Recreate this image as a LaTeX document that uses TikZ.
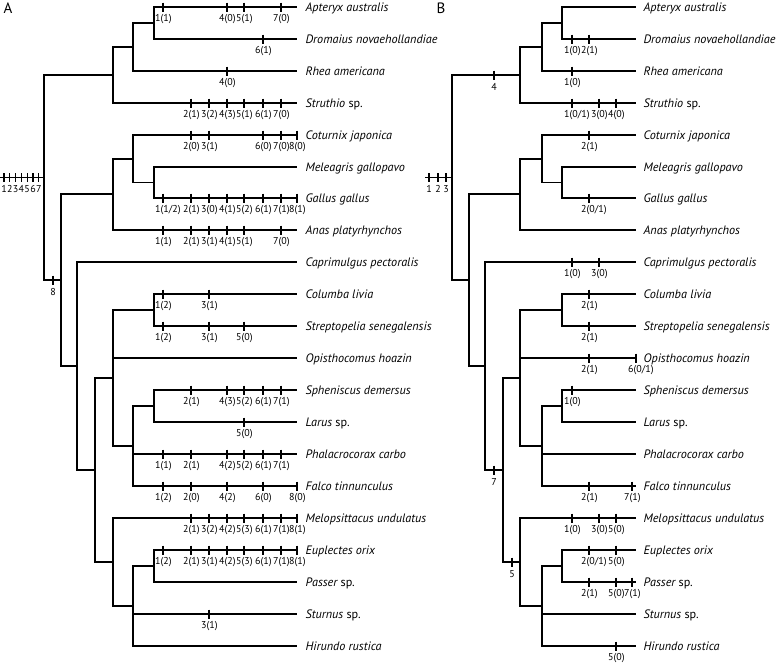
\documentclass[tikz,border=0pt]{standalone}
\usepackage{fontspec}
\setmainfont{PT Sans}
\newcounter{lblc}
\newcommand\ctick[3]{%
  \stepcounter{lblc}%
  \draw (#1,#2-4.5) -- (#1,#2+4.5);
  \node[cl] (lb\arabic{lblc}) at (#1-8.5,#2+14.5) {#3};}
\newcommand\dtick[3]{%
  \stepcounter{lblc}%
  \draw (#1,#2-4.5) -- (#1,#2+4.5);
  \node[dl] (lb\arabic{lblc}) at (#1,#2+15) {#3};}
\begin{document}
\begin{tikzpicture}[x=1pt,y=-1pt,line width=1.2pt,
  sp/.style={anchor=base west,font=\fontsize{12.2}{13}\selectfont\itshape,inner sep=0pt},
  cl/.style={anchor=base west,font=\fontsize{10}{10}\selectfont,inner sep=0pt},
  dl/.style={anchor=base,font=\fontsize{10}{10}\selectfont,inner sep=0pt},
  pl/.style={anchor=base west,font=\fontsize{15}{15}\selectfont,inner sep=0pt}]
\useasboundingbox (0,0) rectangle (778,662);
\node[pl] (pA) at (3,13) {A};
\node[pl] (pB) at (436,13) {B};
% ---------- species labels and leaf ends ----------
\foreach \nm/\yy/\tx in {Apt/7/{Apteryx australis},Dro/39/{Dromaius novaehollandiae},
  Rhe/71/{Rhea americana},Str/103/{Struthio {\upshape sp.}},Cot/135/{Coturnix japonica},
  Mel/167/{Meleagris gallopavo},Gal/198/{Gallus gallus},Ana/230/{Anas platyrhynchos},
  Cap/262/{Caprimulgus pectoralis},Col/294/{Columba livia},Stp/326/{Streptopelia senegalensis},
  Opi/358/{Opisthocomus hoazin},Sph/390/{Spheniscus demersus},Lar/422/{Larus {\upshape sp.}},
  Pha/454/{Phalacrocorax carbo},Fal/486/{Falco tinnunculus},Mlp/518/{Melopsittacus undulatus},
  Eup/550/{Euplectes orix},Pas/582/{Passer {\upshape sp.}},Stu/614/{Sturnus {\upshape sp.}},
  Hir/646/{Hirundo rustica}}{
  \coordinate (a\nm) at (297,\yy);
  \coordinate (b\nm) at (636,\yy);
  \node[sp] (ta\nm) at (305,\yy+4) {\tx};
  \node[sp] (tb\nm) at (643,\yy+4) {\tx};
}
% ---------- tree A ----------
\coordinate (aRoot) at (44,177.5);
\coordinate (aStem) at (0,177.5);
\coordinate (aPal) at (113,75);
\coordinate (aP1) at (133,47);
\coordinate (aP2) at (154,23);
\coordinate (aNeo) at (61,280);
\coordinate (aGa) at (113,194);
\coordinate (aG1) at (133,159);
\coordinate (aG2) at (154,182.5);
\coordinate (aNa) at (77,366);
\coordinate (aN1) at (95,470);
\coordinate (aN2) at (113,378);
\coordinate (aCo) at (154,310);
\coordinate (aN4) at (133,446);
\coordinate (aSp) at (154,406);
\coordinate (aN3) at (113,562);
\coordinate (aN5) at (133,606);
\coordinate (aPa) at (154,566);
\draw (aStem) -- (aRoot);
\draw (aRoot) |- (aPal); \draw (aRoot) |- (aNeo);
\draw (aPal) |- (aP1); \draw (aPal) |- (aStr);
\draw (aP1) |- (aP2); \draw (aP1) |- (aRhe);
\draw (aP2) |- (aApt); \draw (aP2) |- (aDro);
\draw (aNeo) |- (aGa); \draw (aNeo) |- (aNa);
\draw (aGa) |- (aG1); \draw (aGa) |- (aAna);
\draw (aG1) |- (aCot); \draw (aG1) |- (aG2);
\draw (aG2) |- (aMel); \draw (aG2) |- (aGal);
\draw (aNa) |- (aCap); \draw (aNa) |- (aN1);
\draw (aN1) |- (aN2); \draw (aN1) |- (aN3);
\draw (aN2) |- (aCo); \draw (aN2) |- (aOpi); \draw (aN2) |- (aN4);
\draw (aCo) |- (aCol); \draw (aCo) |- (aStp);
\draw (aN4) |- (aSp); \draw (aN4) |- (aPha); \draw (aN4) |- (aFal);
\draw (aSp) |- (aSph); \draw (aSp) |- (aLar);
\draw (aN3) |- (aMlp); \draw (aN3) |- (aN5);
\draw (aN5) |- (aPa); \draw (aN5) |- (aStu); \draw (aN5) |- (aHir);
\draw (aPa) |- (aEup); \draw (aPa) |- (aPas);
% stem ticks A
\foreach \i [count=\k] in {4,9.8,15.6,21.4,27.2,33,38.8}{\dtick{\i}{177.5}{\k}}
\dtick{53}{280}{8}
% character ticks A: 1=163 2=191 3=209 4=227 5=244 6=263 7=281 8=297
\ctick{163}{7}{1(1)}\ctick{227}{7}{4(0)}\ctick{244}{7}{5(1)}\ctick{281}{7}{7(0)}
\ctick{263}{39}{6(1)}
\ctick{227}{71}{4(0)}
\ctick{191}{103}{2(1)}\ctick{209}{103}{3(2)}\ctick{227}{103}{4(3)}\ctick{244}{103}{5(1)}\ctick{263}{103}{6(1)}\ctick{281}{103}{7(0)}
\ctick{191}{135}{2(0)}\ctick{209}{135}{3(1)}\ctick{263}{135}{6(0)}\ctick{281}{135}{7(0)}\ctick{297}{135}{8(0)}
\ctick{163}{198}{1(1/2)}\ctick{191}{198}{2(1)}\ctick{209}{198}{3(0)}\ctick{227}{198}{4(1)}\ctick{244}{198}{5(2)}\ctick{263}{198}{6(1)}\ctick{281}{198}{7(1)}\ctick{297}{198}{8(1)}
\ctick{163}{230}{1(1)}\ctick{191}{230}{2(1)}\ctick{209}{230}{3(1)}\ctick{227}{230}{4(1)}\ctick{244}{230}{5(1)}\ctick{281}{230}{7(0)}
\ctick{163}{294}{1(2)}\ctick{209}{294}{3(1)}
\ctick{163}{326}{1(2)}\ctick{209}{326}{3(1)}\ctick{244}{326}{5(0)}
\ctick{191}{390}{2(1)}\ctick{227}{390}{4(3)}\ctick{244}{390}{5(2)}\ctick{263}{390}{6(1)}\ctick{281}{390}{7(1)}
\ctick{244}{422}{5(0)}
\ctick{163}{454}{1(1)}\ctick{191}{454}{2(1)}\ctick{227}{454}{4(2)}\ctick{244}{454}{5(2)}\ctick{263}{454}{6(1)}\ctick{281}{454}{7(1)}
\ctick{163}{486}{1(2)}\ctick{191}{486}{2(0)}\ctick{227}{486}{4(2)}\ctick{263}{486}{6(0)}\ctick{297}{486}{8(0)}
\ctick{191}{518}{2(1)}\ctick{209}{518}{3(2)}\ctick{227}{518}{4(2)}\ctick{244}{518}{5(3)}\ctick{263}{518}{6(1)}\ctick{281}{518}{7(1)}\ctick{297}{518}{8(1)}
\ctick{163}{550}{1(2)}\ctick{191}{550}{2(1)}\ctick{209}{550}{3(1)}\ctick{227}{550}{4(2)}\ctick{244}{550}{5(3)}\ctick{263}{550}{6(1)}\ctick{281}{550}{7(1)}\ctick{297}{550}{8(1)}
\ctick{209}{614}{3(1)}
% ---------- tree B ----------
\coordinate (bRoot) at (452,177.5);
\coordinate (bStem) at (425,177.5);
\coordinate (bPal) at (520,75);
\coordinate (bP1) at (542,47);
\coordinate (bP2) at (562,23);
\coordinate (bNeo) at (469,280);
\coordinate (bGa) at (520,194);
\coordinate (bG1) at (542,159);
\coordinate (bG2) at (562,182.5);
\coordinate (bNa) at (485,366);
\coordinate (bN1) at (503,470);
\coordinate (bN2) at (520,378);
\coordinate (bCo) at (562,310);
\coordinate (bN4) at (542,446);
\coordinate (bSp) at (562,406);
\coordinate (bN3) at (520,562);
\coordinate (bN5) at (542,606);
\coordinate (bPa) at (562,566);
\draw (bStem) -- (bRoot);
\draw (bRoot) |- (bPal); \draw (bRoot) |- (bNeo);
\draw (bPal) |- (bP1); \draw (bPal) |- (bStr);
\draw (bP1) |- (bP2); \draw (bP1) |- (bRhe);
\draw (bP2) |- (bApt); \draw (bP2) |- (bDro);
\draw (bNeo) |- (bGa); \draw (bNeo) |- (bNa);
\draw (bGa) |- (bG1); \draw (bGa) |- (bAna);
\draw (bG1) |- (bCot); \draw (bG1) |- (bG2);
\draw (bG2) |- (bMel); \draw (bG2) |- (bGal);
\draw (bNa) |- (bCap); \draw (bNa) |- (bN1);
\draw (bN1) |- (bN2); \draw (bN1) |- (bN3);
\draw (bN2) |- (bCo); \draw (bN2) |- (bOpi); \draw (bN2) |- (bN4);
\draw (bCo) |- (bCol); \draw (bCo) |- (bStp);
\draw (bN4) |- (bSp); \draw (bN4) |- (bPha); \draw (bN4) |- (bFal);
\draw (bSp) |- (bSph); \draw (bSp) |- (bLar);
\draw (bN3) |- (bMlp); \draw (bN3) |- (bN5);
\draw (bN5) |- (bPa); \draw (bN5) |- (bStu); \draw (bN5) |- (bHir);
\draw (bPa) |- (bEup); \draw (bPa) |- (bPas);
% stem ticks B
\dtick{429}{177.5}{1}\dtick{438}{177.5}{2}\dtick{446}{177.5}{3}
\dtick{494}{75}{4}\dtick{494}{470}{7}\dtick{512}{562}{5}
% character ticks B
\ctick{572}{39}{1(0)}\ctick{589}{39}{2(1)}
\ctick{572}{71}{1(0)}
\ctick{572}{103}{1(0/1)}\ctick{599}{103}{3(0)}\ctick{616}{103}{4(0)}
\ctick{589}{135}{2(1)}
\ctick{589}{198}{2(0/1)}
\ctick{572}{262}{1(0)}\ctick{599}{262}{3(0)}
\ctick{589}{294}{2(1)}
\ctick{589}{326}{2(1)}
\ctick{589}{358}{2(1)}\ctick{636}{358}{6(0/1)}
\ctick{572}{390}{1(0)}
\ctick{589}{486}{2(1)}\ctick{632}{486}{7(1)}
\ctick{572}{518}{1(0)}\ctick{599}{518}{3(0)}\ctick{616}{518}{5(0)}
\ctick{589}{550}{2(0/1)}\ctick{616}{550}{5(0)}
\ctick{589}{582}{2(1)}\ctick{616}{582}{5(0)}\ctick{632}{582}{7(1)}
\ctick{616}{646}{5(0)}
\end{tikzpicture}
\end{document}
